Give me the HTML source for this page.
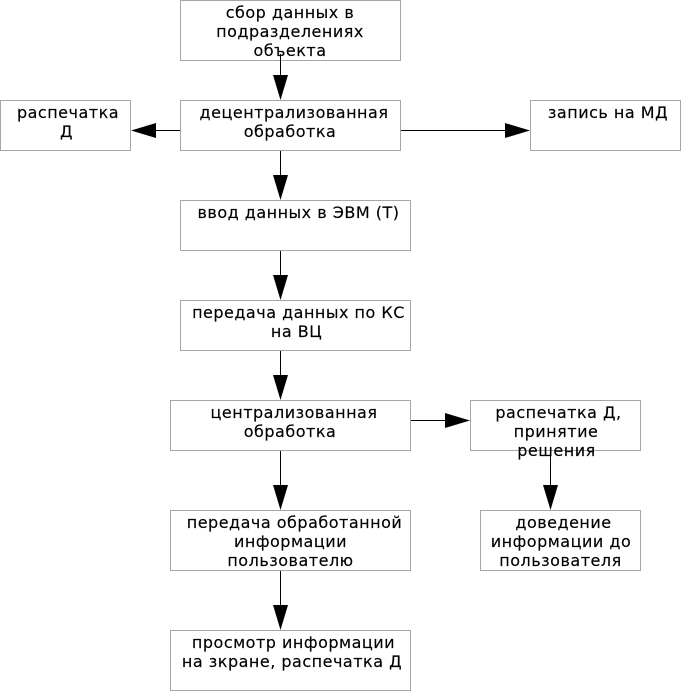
<!DOCTYPE html>
<html><head><meta charset="utf-8"><style>
html,body{margin:0;padding:0;background:#fff}
svg{display:block}
text{font-family:"DejaVu Sans",sans-serif;font-size:16px;letter-spacing:.5px;fill:#000;stroke:#000;stroke-width:.15px;text-anchor:middle}
rect{fill:#fff;stroke:#a6a6a6;stroke-width:1}
line{stroke:#000;stroke-width:1}
</style></head><body>
<svg width="681" height="691" viewBox="0 0 681 691" xmlns="http://www.w3.org/2000/svg">
<rect x="180.5" y="0.5" width="220" height="60"/>
<rect x="180.5" y="100.5" width="220" height="50"/>
<rect x="0.5" y="100.5" width="130" height="50"/>
<rect x="530.5" y="100.5" width="150" height="50"/>
<rect x="180.5" y="200.5" width="230" height="50"/>
<rect x="180.5" y="300.5" width="230" height="50"/>
<rect x="170.5" y="400.5" width="240" height="50"/>
<rect x="470.5" y="400.5" width="170" height="50"/>
<rect x="170.5" y="510.5" width="240" height="60"/>
<rect x="480.5" y="510.5" width="160" height="60"/>
<rect x="170.5" y="630.5" width="240" height="60"/>

<text x="290" y="18">сбор данных в</text>
<text x="290" y="37">подразделениях</text>
<text x="290" y="56">объекта</text>
<text x="294" y="118">децентрализованная</text>
<text x="290" y="137">обработка</text>
<text x="68" y="118">распечатка</text>
<text x="66.5" y="137">Д</text>
<text x="608" y="118">запись на МД</text>
<text x="298.5" y="218">ввод данных в ЭВМ (Т)</text>
<text x="298.5" y="318">передача данных по КС</text>
<text x="296.5" y="337">на ВЦ</text>
<text x="294" y="418">централизованная</text>
<text x="290" y="437">обработка</text>
<text x="558.5" y="418">распечатка Д,</text>
<text x="556" y="437">принятие</text>
<text x="556.5" y="456">решения</text>
<text x="294.5" y="528">передача обработанной</text>
<text x="290.5" y="547">информации</text>
<text x="290.5" y="566">пользователю</text>
<text x="563.5" y="528">доведение</text>
<text x="561" y="547">информации до</text>
<text x="560.5" y="566">пользователя</text>
<text x="293.5" y="648">просмотр информации</text>
<text x="292" y="667">на зкране, распечатка Д</text>

<line x1="280.5" y1="54" x2="280.5" y2="76"/><polygon points="273,75 288,75 280.5,100"/>
<line x1="280.5" y1="151" x2="280.5" y2="176"/><polygon points="273,175 288,175 280.5,200"/>
<line x1="280.5" y1="251" x2="280.5" y2="276"/><polygon points="273,275 288,275 280.5,300"/>
<line x1="280.5" y1="351" x2="280.5" y2="376"/><polygon points="273,375 288,375 280.5,400"/>
<line x1="280.5" y1="451" x2="280.5" y2="486"/><polygon points="273,485 288,485 280.5,510"/>
<line x1="280.5" y1="571" x2="280.5" y2="606"/><polygon points="273,605 288,605 280.5,630"/>
<line x1="550.5" y1="451" x2="550.5" y2="486"/><polygon points="543,485 558,485 550.5,510"/>
<line x1="180" y1="130.5" x2="155" y2="130.5"/><polygon points="156,123 156,138 131,130.5"/>
<line x1="401" y1="130.5" x2="506" y2="130.5"/><polygon points="505,123 505,138 530,130.5"/>
<line x1="411" y1="420.5" x2="446" y2="420.5"/><polygon points="445,413 445,428 470,420.5"/>
</svg>
</body></html>
